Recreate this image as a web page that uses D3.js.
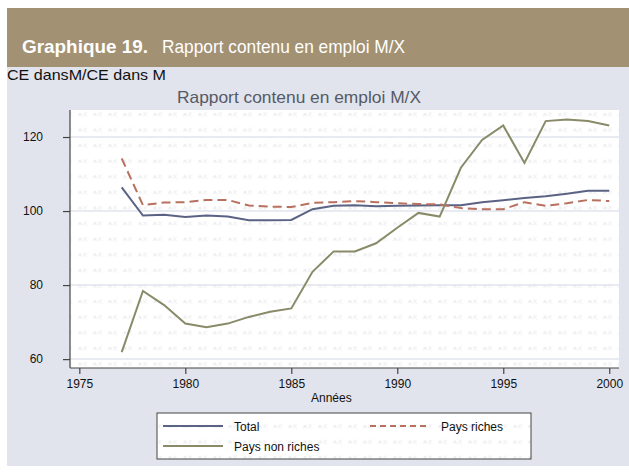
<!DOCTYPE html>
<html>
<head>
<meta charset="utf-8">
<script src="https://cdn.jsdelivr.net/npm/d3@7.9.0/dist/d3.min.js"></script>
<style>
  body { margin: 0; background: #fff; }
  svg { display: block; font-family: 'Liberation Sans', Arial, sans-serif; }
</style>
</head>
<body>
<div id="chart"></div>
<script>
// values
const years = d3.range(1977, 2001);
const total = [106.4, 98.8, 99.0, 98.4, 98.8, 98.5, 97.5, 97.5, 97.6, 100.5, 101.4, 101.6,
  101.3, 101.4, 101.5, 101.6, 101.6, 102.4, 102.9, 103.5, 104.0, 104.7, 105.5, 105.5];
const riches = [114.2, 101.6, 102.3, 102.4, 103.0, 103.0, 101.5, 101.2, 101.1, 102.2, 102.4, 102.7,
  102.4, 102.1, 101.9, 101.8, 100.8, 100.5, 100.5, 102.4, 101.4, 102.1, 103.0, 102.7];
const nonRiches = [61.9, 78.4, 74.6, 69.6, 68.6, 69.6, 71.4, 72.8, 73.7, 83.6, 89.1, 89.1,
  91.3, 95.5, 99.5, 98.5, 111.7, 119.2, 123.1, 113.0, 124.3, 124.7, 124.3, 123.1];
const yTicks = [60, 80, 100, 120];
const xTicks = [1975, 1980, 1985, 1990, 1995, 2000];

const series = [
  { name: 'Total', values: total, color: '#5b6384', dash: null },
  { name: 'Pays riches', values: riches, color: '#b8705f', dash: '9,5' },
  { name: 'Pays non riches', values: nonRiches, color: '#888a68', dash: null },
];

const width = 629;
const height = 475;
const plot = { left: 70, right: 619, top: 110, bottom: 368 };

const svg = d3.select('#chart').append('svg')
  .attr('width', width)
  .attr('height', height);

// faint watermark pattern
const defs = svg.append('defs');
const pat = defs.append('pattern')
  .attr('id', 'wm')
  .attr('patternUnits', 'userSpaceOnUse')
  .attr('width', 15)
  .attr('height', 15.6)
  .attr('x', 1.5)
  .attr('y', 110);
pat.append('path')
  .attr('d', 'M2,6 l1.5,-3 l1.5,3 M7,6 l3,-3.5 M7,3 h1 M9.5,6 h1')
  .attr('fill', 'none')
  .attr('stroke', '#dcdde2')
  .attr('stroke-width', 0.8);

// header band
svg.append('rect')
  .attr('x', 7).attr('y', 8)
  .attr('width', width - 7).attr('height', 59)
  .attr('fill', '#a39173');

svg.append('text')
  .attr('x', 22).attr('y', 53)
  .attr('fill', '#fff')
  .attr('textLength', 126)
  .attr('lengthAdjust', 'spacingAndGlyphs')
  .style('font-size', '19px')
  .style('font-weight', 'bold')
  .text('Graphique 19.');

svg.append('text')
  .attr('x', 162).attr('y', 53)
  .attr('fill', '#fff')
  .attr('textLength', 243)
  .attr('lengthAdjust', 'spacingAndGlyphs')
  .style('font-size', '19px')
  .text('Rapport contenu en emploi M/X');

// gray panel
svg.append('rect')
  .attr('x', 7).attr('y', 67)
  .attr('width', width - 7).attr('height', 399)
  .attr('fill', '#e1e4ec');

svg.append('text')
  .attr('x', 7).attr('y', 80)
  .attr('fill', '#111')
  .attr('textLength', 159)
  .attr('lengthAdjust', 'spacingAndGlyphs')
  .style('font-size', '14.5px')
  .text('CE dansM/CE dans M');

svg.append('text')
  .attr('x', 177).attr('y', 103)
  .attr('fill', '#555a66')
  .attr('textLength', 244)
  .attr('lengthAdjust', 'spacingAndGlyphs')
  .style('font-size', '16.5px')
  .text('Rapport contenu en emploi M/X');

// plot area
svg.append('rect')
  .attr('x', plot.left).attr('y', plot.top)
  .attr('width', plot.right - plot.left).attr('height', plot.bottom - plot.top)
  .attr('fill', '#fff');
svg.append('rect')
  .attr('x', plot.left).attr('y', plot.top)
  .attr('width', plot.right - plot.left).attr('height', plot.bottom - plot.top)
  .attr('fill', 'url(#wm)');

const xScale = d3.scaleLinear()
  .domain([1974.56, 2000.46])
  .range([plot.left, plot.right]);

const yScale = d3.scaleLinear()
  .domain([57.6, 127.3])
  .range([plot.bottom, plot.top]);

// gridlines
svg.append('g')
  .selectAll('line')
  .data(yTicks)
  .join('line')
  .attr('x1', plot.left)
  .attr('x2', plot.right)
  .attr('y1', d => yScale(d))
  .attr('y2', d => yScale(d))
  .attr('stroke', '#e1e4ec')
  .attr('stroke-width', 1.5);

// axes
const yAxis = d3.axisLeft(yScale)
  .tickValues(yTicks)
  .tickSize(7)
  .tickPadding(20);

const xAxis = d3.axisBottom(xScale)
  .tickValues(xTicks)
  .tickFormat(d3.format('d'))
  .tickSize(6)
  .tickPadding(5);

const gy = svg.append('g')
  .attr('transform', `translate(${plot.left},0)`)
  .call(yAxis);
gy.select('.domain').attr('d', `M0,${plot.top}V${plot.bottom}`);

const gx = svg.append('g')
  .attr('transform', `translate(0,${plot.bottom})`)
  .call(xAxis);
gx.select('.domain').attr('d', `M${plot.left},0H${plot.right}`);

svg.selectAll('.domain').attr('stroke', '#444').attr('stroke-width', 1.2);
svg.selectAll('.tick line').attr('stroke', '#444').attr('stroke-width', 1.2);
svg.selectAll('.tick text')
  .attr('fill', '#111')
  .style('font-size', '12px')
  .style('font-family', "'Liberation Sans', Arial, sans-serif");

svg.append('text')
  .attr('x', 311).attr('y', 402)
  .attr('fill', '#111')
  .style('font-size', '12px')
  .text('Années');

// lines
const line = d3.line()
  .x((d, i) => xScale(years[i]))
  .y(d => yScale(d));

svg.append('g')
  .selectAll('path')
  .data(series)
  .join('path')
  .attr('d', d => line(d.values))
  .attr('fill', 'none')
  .attr('stroke', d => d.color)
  .attr('stroke-width', 2)
  .attr('stroke-dasharray', d => d.dash);

// legend
const legend = svg.append('g');
legend.append('rect')
  .attr('x', 157).attr('y', 413)
  .attr('width', 374).attr('height', 46)
  .attr('fill', '#fff');
legend.append('rect')
  .attr('x', 157).attr('y', 413)
  .attr('width', 374).attr('height', 46)
  .attr('fill', 'url(#wm)')
  .attr('stroke', '#444')
  .attr('stroke-width', 1);

const legendPos = [
  { x: 163, y: 426 },
  { x: 370, y: 426 },
  { x: 163, y: 446 },
];

const items = legend.selectAll('g.item')
  .data(series)
  .join('g')
  .attr('class', 'item')
  .attr('transform', (d, i) => `translate(${legendPos[i].x},${legendPos[i].y})`);

items.append('line')
  .attr('x1', 0).attr('x2', 60)
  .attr('y1', 0).attr('y2', 0)
  .attr('stroke', d => d.color)
  .attr('stroke-width', 1.8)
  .attr('stroke-dasharray', d => d.dash ? '6,4' : null);

items.append('text')
  .attr('x', 71).attr('y', 4.5)
  .attr('fill', '#111')
  .style('font-size', '12px')
  .text(d => d.name);
</script>
</body>
</html>
